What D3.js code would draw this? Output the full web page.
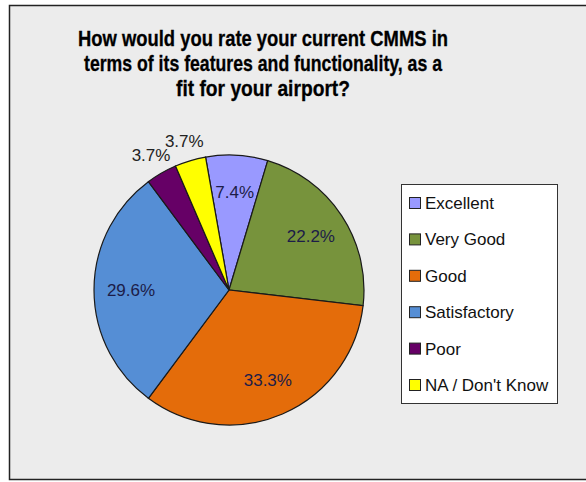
<!DOCTYPE html>
<html>
<head>
<meta charset="utf-8">
<script src="https://cdn.jsdelivr.net/npm/d3@7"></script>
<style>
  body { margin: 0; background: #fff; }
  svg { display: block; }
</style>
</head>
<body>
<div id="chart"></div>
<script>
// Survey answers (27 respondents)
const categories = ['Excellent', 'Very Good', 'Good', 'Satisfactory', 'Poor', 'NA / Don\'t Know'];
const counts = [2, 6, 9, 8, 1, 1];
const colors = ['#9999FF', '#77933C', '#E46C0A', '#558ED5', '#660066', '#FFFF00'];
const titleLines = [
    'How would you rate your current CMMS in',
    'terms of its features and functionality, as a',
    'fit for your airport?'
];

const width = 586, height = 482;

const svg = d3.select('#chart')
    .append('svg')
        .attr('width', width)
        .attr('height', height);

// Chart area frame
svg.append('rect')
    .attr('x', 9.5).attr('y', 5.5)
    .attr('width', 600).attr('height', 474)
    .attr('fill', '#ECECEC')
    .attr('stroke', '#222')
    .attr('stroke-width', 1.5);
svg.append('line')
    .attr('x1', 10).attr('x2', 586)
    .attr('y1', 480.5).attr('y2', 480.5)
    .attr('stroke', '#c8c8c8');

// Title (squeezed to the widths seen in the original)
const titleWidths = [370, 358, 174];
svg.append('g')
    .selectAll('text')
    .data(titleLines)
    .enter()
    .append('text')
        .attr('x', 263)
        .attr('y', (d, i) => 46 + i * 25)
        .attr('text-anchor', 'middle')
        .attr('textLength', (d, i) => titleWidths[i])
        .attr('lengthAdjust', 'spacingAndGlyphs')
        .style('font-family', 'Liberation Sans, Arial, sans-serif')
        .style('font-size', '21.5px')
        .style('font-weight', 'bold')
        .attr('stroke', '#000')
        .attr('stroke-width', 0.3)
        .text(d => d);

// Pie
const total = d3.sum(counts);
const data = categories.map((c, i) => ({ category: c, count: counts[i], color: colors[i] }));
const radius = 135;
const start = -10 * Math.PI / 180;

const g = svg.append('g')
    .attr('transform', 'translate(229,290)');

const pie = d3.pie()
    .value(d => d.count)
    .sort(null)
    .startAngle(start)
    .endAngle(start + 2 * Math.PI);

const path = d3.arc()
    .outerRadius(radius)
    .innerRadius(0);

const inside = d3.arc()
    .outerRadius(98)
    .innerRadius(98);

const outside = d3.arc()
    .outerRadius(156)
    .innerRadius(156);

const arcs = g.selectAll('.arc')
    .data(pie(data))
    .enter()
    .append('g')
        .attr('class', 'arc');

arcs.append('path')
    .attr('d', path)
    .attr('fill', d => d.data.color)
    .attr('stroke', '#1a1a1a')
    .style('stroke-width', '1.2px');

// Percentage labels: small slices go outside
arcs.append('text')
    .attr('transform', d => {
        const small = d.data.count / total < 0.05;
        return `translate(${(small ? outside : inside).centroid(d)})`;
    })
    .attr('dy', '0.35em')
    .style('text-anchor', 'middle')
    .style('font-family', 'Liberation Sans, Arial, sans-serif')
    .style('font-size', '17px')
    .attr('fill', d => d.data.count / total < 0.05 ? '#222' : '#1c1c48')
    .text(d => `${((d.data.count / total) * 100).toFixed(1)}%`);

// Legend
const legend = svg.append('g')
    .attr('transform', 'translate(401,184)');

legend.append('rect')
    .attr('x', 0.5).attr('y', 0.5)
    .attr('width', 156).attr('height', 219)
    .attr('fill', '#fff')
    .attr('stroke', '#333');

const items = legend.selectAll('.item')
    .data(data)
    .enter()
    .append('g')
        .attr('class', 'item')
        .attr('transform', (d, i) => `translate(0,${19 + i * 36.4})`);

items.append('rect')
    .attr('x', 8.5).attr('y', -5.5)
    .attr('width', 11).attr('height', 11)
    .attr('fill', d => d.color)
    .attr('stroke', '#222');

items.append('text')
    .attr('x', 24)
    .attr('dy', '0.35em')
    .style('font-family', 'Liberation Sans, Arial, sans-serif')
    .style('font-size', '17px')
    .attr('fill', '#111')
    .text(d => d.category);
</script>
</body>
</html>
